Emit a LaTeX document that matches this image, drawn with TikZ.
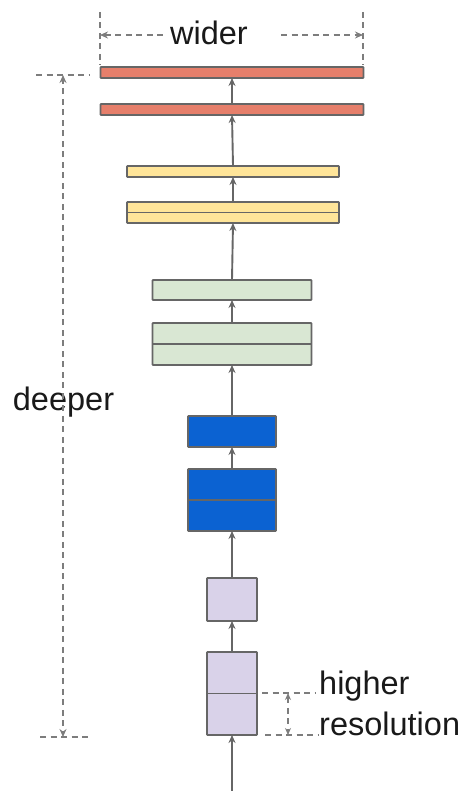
\documentclass[tikz,border=0pt]{standalone}
\usepackage{fontspec}
\setmainfont{Liberation Sans}
\usetikzlibrary{arrows.meta}
\definecolor{barred}{HTML}{E67F6B}
\definecolor{baryellow}{HTML}{FFE599}
\definecolor{bargreen}{HTML}{D9E7D3}
\definecolor{barblue}{HTML}{0B62D2}
\definecolor{barpurple}{HTML}{D9D2E9}
\definecolor{edge}{HTML}{666666}
\tikzset{
	bar/.style={draw=edge,line width=1.9pt,inner sep=0,outer sep=0,rounded corners=0.8pt},
	flow/.style={draw=edge,line width=1.9pt,-{Stealth[length=8pt,width=7pt]}},
	dim/.style={draw=edge!85,line width=1.8pt,dash pattern=on 6pt off 4.5pt},
	lbl/.style={font=\fontsize{32.5}{36}\selectfont,inner sep=0,text=black!90}
}
\begin{document}
\begin{tikzpicture}[x=1pt,y=-1pt]
		\useasboundingbox (0,0) rectangle (467,791);
		% layers, bottom to top
		\node[bar,fill=barpurple,minimum width=50pt,minimum height=83pt] (p2) at (232,693.5) {};
		\node[bar,fill=barpurple,minimum width=50pt,minimum height=43pt] (p1) at (232,599.5) {};
		\node[bar,fill=barblue,minimum width=88pt,minimum height=62pt] (b2) at (232,500) {};
		\node[bar,fill=barblue,minimum width=88pt,minimum height=31pt] (b1) at (232,431.5) {};
		\node[bar,fill=bargreen,minimum width=159pt,minimum height=42pt] (g2) at (232,344) {};
		\node[bar,fill=bargreen,minimum width=159pt,minimum height=20pt] (g1) at (232,290) {};
		\node[bar,fill=baryellow,minimum width=212pt,minimum height=21pt] (y2) at (233,212.5) {};
		\node[bar,fill=baryellow,minimum width=212pt,minimum height=11pt] (y1) at (233,171.5) {};
		\node[bar,fill=barred,minimum width=263pt,minimum height=11pt] (r2) at (232,109.5) {};
		\node[bar,fill=barred,minimum width=263pt,minimum height=11pt] (r1) at (232,72.5) {};
		\foreach \n in {p2,b2,g2,y2}{\draw[draw=edge,line width=1.9pt] (\n.west)--(\n.east);}
		\coordinate (in) at (232,791);
		\draw[flow] (in)--(p2.south);
		\draw[flow] (p2.north)--(p1.south);
		\draw[flow] (p1.north)--(b2.south);
		\draw[flow] (b2.north)--(b1.south);
		\draw[flow] (b1.north)--(g2.south);
		\draw[flow] (g2.north)--(g1.south);
		\draw[flow] (g1.north)--(y2.south);
		\draw[flow] (y2.north)--(y1.south);
		\draw[flow] (y1.north)--(r2.south);
		\draw[flow] (r2.north)--(r1.south);
		% wider
		\node[lbl] (wider) at (209,33) {wider};
		\coordinate (wl) at (100,35); \coordinate (wr) at (363,35);
		\draw[dim] (100,12)--(100,65) (363,12)--(363,65);
		\draw[dim,{Stealth[length=8pt,width=7pt]}-] (wl)--([xshift=-5pt]wider.west|-wl);
		\draw[dim,-{Stealth[length=8pt,width=7pt]}] ([xshift=33pt]wider.east|-wr)--(wr);
		% deeper
		\node[lbl] (deeper) at (63.5,402) {deeper};
		\coordinate (dt) at (63,75); \coordinate (db) at (63,737);
		\draw[dim] (36,75)--(89,75) (40,737)--(92,737);
		\draw[dim,-{Stealth[length=8pt,width=7pt]}] ([yshift=-12pt]deeper.north-|dt)--(dt);
		\draw[dim,-{Stealth[length=8pt,width=7pt]}] ([yshift=12pt]deeper.south-|db)--(db);
		% higher resolution
		\node[lbl,anchor=west] (hi) at (319,686) {higher};
		\node[lbl,anchor=west] (res) at (319,724) {resolution};
		\coordinate (ht) at (288,693); \coordinate (hb) at (288,735);
		\draw[dim] (262,693)--(316,693) (265,735)--(318,735);
		\draw[dim,{Stealth[length=7pt,width=6pt]}-{Stealth[length=7pt,width=6pt]}] (ht)--(hb);
		\end{tikzpicture}
\end{document}
